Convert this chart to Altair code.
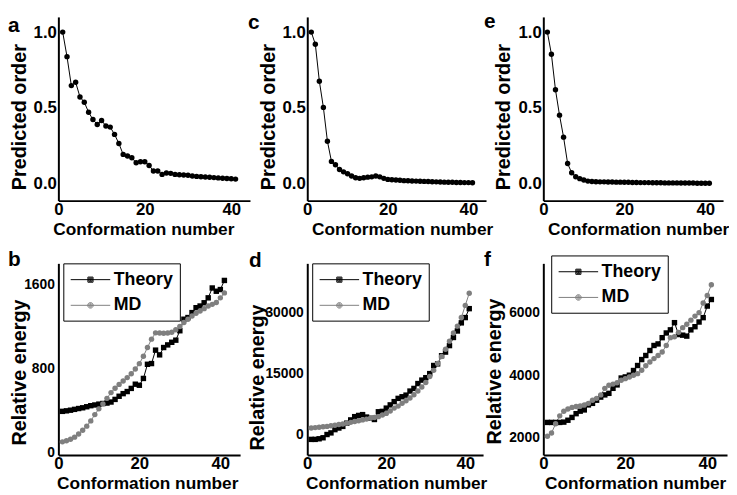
import altair as alt
import pandas as pd

conformation = list(range(1, 42))

order_a = [1.0, 0.838, 0.647, 0.669, 0.572, 0.537, 0.471, 0.423, 0.39, 0.417,
           0.38, 0.373, 0.325, 0.265, 0.193, 0.182, 0.171, 0.138, 0.145, 0.145,
           0.12, 0.083, 0.083, 0.061, 0.07, 0.068, 0.061, 0.059, 0.057, 0.055,
           0.05, 0.048, 0.046, 0.044, 0.042, 0.04, 0.038, 0.036, 0.034, 0.032, 0.03]
order_c = [1.0, 0.92, 0.676, 0.503, 0.28, 0.147, 0.125, 0.093, 0.078, 0.065,
           0.05, 0.039, 0.035, 0.039, 0.043, 0.045, 0.05, 0.045, 0.035, 0.028,
           0.026, 0.024, 0.022, 0.02, 0.019, 0.018, 0.017, 0.016, 0.015, 0.014,
           0.013, 0.012, 0.011, 0.010, 0.009, 0.009, 0.008, 0.008, 0.007, 0.007, 0.006]
order_e = [1.0, 0.854, 0.62, 0.452, 0.307, 0.133, 0.072, 0.046, 0.033, 0.024,
           0.017, 0.014, 0.013, 0.012, 0.012, 0.011, 0.011, 0.010, 0.010, 0.009,
           0.009, 0.008, 0.008, 0.007, 0.007, 0.007, 0.006, 0.006, 0.006, 0.005,
           0.005, 0.005, 0.005, 0.004, 0.004, 0.004, 0.004, 0.003, 0.003, 0.003, 0.003]

theory_b = [391, 396, 402, 410, 418, 425, 435, 445, 452, 460,
            466, 470, 480, 505, 535, 560, 580, 610, 650, 640,
            705, 840, 847, 975, 930, 1000, 1025, 1050, 1070, 1160,
            1270, 1286, 1333, 1380, 1396, 1427, 1474, 1568, 1537, 1553, 1640]
md_b = [100, 110, 125, 145, 175, 210, 250, 300, 360, 415,
        462, 515, 570, 612, 648, 680, 713, 750, 795, 846,
        917, 1000, 1080, 1140, 1138, 1136, 1138, 1145, 1170, 1200,
        1239, 1270, 1300, 1327, 1349, 1371, 1396, 1412, 1430, 1474, 1521]

theory_d = [-1200, -1200, -1050, -800, 0, 400, 1200, 1600, 2000, 2800,
            3600, 4400, 4700, 4900, 4300, 4000, 3700, 5600, 5700, 6500,
            7300, 8100, 8900, 9300, 9700, 10700, 11350, 12550, 13400, 14000,
            15000, 17000, 17400, 19400, 20300, 21900, 23900, 25500, 27500, 28800, 31000]
md_d = [1600, 1700, 1800, 1900, 2000, 2150, 2300, 2450, 2600, 2800,
        3000, 3200, 3400, 3600, 3800, 4000, 4200, 4400, 4800, 5200,
        5800, 6500, 7000, 7700, 8300, 9000, 9800, 10700, 11700, 12800,
        14300, 15800, 17500, 19200, 21000, 23000, 25000, 26700, 28800, 31800, 34800]

theory_f = [2490, 2490, 2490, 2490, 2500, 2560, 2650, 2770, 2850, 2890,
            3050, 3100, 3200, 3300, 3370, 3420, 3580, 3690, 3910, 3945,
            4000, 4150, 4310, 4500, 4630, 4790, 4950, 5000, 5200, 5350,
            5450, 5680, 5300, 5280, 5250, 5450, 5550, 5700, 5840, 6210, 6420]
md_f = [2050, 2150, 2450, 2700, 2850, 2920, 2970, 3000, 3020, 3050,
        3100, 3200, 3260, 3370, 3580, 3680, 3715, 3760, 3840, 3890,
        3945, 4000, 4050, 4160, 4300, 4420, 4530, 4630, 4740, 4950,
        5200, 5230, 5370, 5520, 5630, 5760, 5890, 6000, 6310, 6550, 6890]

series_names = ["Theory", "MD"]
series_colors = ["#000000", "#7f7f7f"]
FONT = "Liberation Sans"


def square_path(cx, halves):
    return "".join("M%g,%gH%gV%gH%gZ" % (cx - h, -h, cx + h, h, cx - h) for h in halves)


def circle_path(cx, radii):
    return "".join("M%g,0A%g,%g,0,1,1,%g,0A%g,%g,0,1,1,%g,0Z" % (cx + r, r, r, cx - r, r, r, cx + r)
                   for r in radii)


# legend symbols: a line segment with the marker in its middle
LINE = "M-0.9,0H3.1"
theory_sym = LINE + square_path(1.1, [0.26, 0.16, 0.06])
md_sym = LINE + circle_path(1.1, [0.28, 0.18, 0.08])


def letter_layer(letter, dx, dy):
    return alt.Chart(pd.DataFrame({"t": [letter]})).mark_text(
        font=FONT, fontSize=21, fontWeight="bold", align="left",
        baseline="middle", color="black"
    ).encode(text="t:N", x=alt.value(dx), y=alt.value(dy))


def x_axis(title_x, title_y):
    return alt.Axis(values=[0, 20, 40], format="d", title="Conformation number",
                    labelFlush=False, labelPadding=1, labelFontSize=17,
                    titleFontSize=17.5, titleX=title_x, titleY=title_y,
                    titleAlign="center", titleBaseline="middle")


def top_panel(values, letter, width, xmax, title_x, ytitle_x, letter_dx, letter_dy):
    df = pd.DataFrame({"n": conformation, "v": values})
    x = alt.X("n:Q", scale=alt.Scale(domain=[0, xmax], nice=False, zero=False),
              axis=x_axis(title_x, 29.5))
    y = alt.Y("v:Q", scale=alt.Scale(domain=[-0.112, 1.1], nice=False, zero=False),
              axis=alt.Axis(values=[0, 0.5, 1.0], format=".1f", title="Predicted order",
                            labelFontSize=17, labelPadding=2, titleFontSize=20,
                            titleX=ytitle_x, titleY=101, titleAngle=270,
                            titleAlign="center", titleBaseline="middle"))
    base = alt.Chart(df)
    line = base.mark_line(color="black", strokeWidth=1).encode(x=x, y=y)
    pts = base.mark_circle(color="black", size=30, opacity=1).encode(x=x, y=y)
    return alt.layer(line, pts, letter_layer(letter, letter_dx, letter_dy)).properties(
        width=width, height=186)


def bottom_panel(theory, md, letter, width, xmax, ydom, yvals, ylab_size, title_x,
                 ytitle_x, ytitle_y, letter_dx, letter_dy, leg_x, leg_y):
    df = pd.DataFrame({"n": conformation * 2, "v": theory + md,
                       "s": ["Theory"] * len(theory) + ["MD"] * len(md)})
    x = alt.X("n:Q", scale=alt.Scale(domain=[0, xmax], nice=False, zero=False),
              axis=x_axis(title_x, 28.5))
    y = alt.Y("v:Q", scale=alt.Scale(domain=ydom, nice=False, zero=False),
              axis=alt.Axis(values=yvals, format="d", title="Relative energy",
                            labelFontSize=ylab_size, labelPadding=4, titleFontSize=20,
                            titleX=ytitle_x, titleY=ytitle_y, titleAngle=270,
                            titleAlign="center", titleBaseline="middle"))
    cscale = alt.Scale(domain=series_names, range=series_colors)
    base = alt.Chart(df)
    line = base.mark_line(strokeWidth=1).encode(
        x=x, y=y, color=alt.Color("s:N", scale=cscale, legend=None))
    pts = base.mark_point(filled=True, size=30, opacity=1).encode(
        x=x, y=y, color=alt.Color("s:N", scale=cscale, legend=None),
        shape=alt.Shape("s:N", scale=alt.Scale(domain=series_names,
                                               range=["square", "circle"]), legend=None))
    leg = alt.Legend(
        orient="none", legendX=leg_x, legendY=leg_y, title=None,
        labelFont=FONT, labelFontSize=18, labelFontWeight="bold",
        labelColor="black", symbolSize=400, symbolStrokeWidth=1, symbolOpacity=1,
        labelOffset=24, rowPadding=6, padding=6, fillColor="white", strokeColor="black")
    legend_layer = base.mark_point(filled=False, opacity=0, size=1, strokeWidth=1).encode(
        x=x, y=y,
        color=alt.Color("s:N", scale=cscale, legend=leg),
        shape=alt.Shape("s:N", scale=alt.Scale(domain=series_names,
                                               range=[theory_sym, md_sym]), legend=leg))
    return alt.layer(line, pts, legend_layer, letter_layer(letter, letter_dx, letter_dy)).resolve_scale(
        shape="independent", color="independent").properties(width=width, height=194)


pa = top_panel(order_a, "a", 194, 194 / 4.375, 86, -39, -51, 9.5)
pc = top_panel(order_c, "c", 181, 181 / 4.08, 96, -39, -60, 6.5)
pe = top_panel(order_e, "e", 182, 182 / 4.1, 96, -40, -60, 5.5)

pb = bottom_panel(theory_b, md_b, "b", 184, 184 / 4.1, [-25, 1803], [0, 800, 1600], 14,
                  90, -39, 110, -51, -3, 5, 0)
pd_ = bottom_panel(theory_d, md_d, "d", 178, 178 / 4.0, [-5035, 42155], [0, 15000, 30000], 14,
                   90, -50, 115, -59, -2, 5, 0)
pf = bottom_panel(theory_f, md_f, "f", 186, 186 / 4.15, [1450, 7576], [2000, 4000, 6000], 14,
                  93, -49, 109, -60, -3, 8, -8)

chart = alt.concat(pa, pc, pe, pb, pd_, pf, columns=3,
                   spacing={"row": 63.5, "column": 58}, bounds="flush", align="each").properties(
    padding=0, background="white"
).configure_view(stroke=None).configure_axis(
    domainColor="black", domainWidth=2, ticks=False, grid=False,
    labelFont=FONT, labelFontWeight="bold", labelColor="black",
    titleFont=FONT, titleFontWeight="bold", titleColor="black",
    labelOverlap=False, labelBound=False
)

chart.save("out.html", embed_options={"renderer": "svg", "actions": False})
